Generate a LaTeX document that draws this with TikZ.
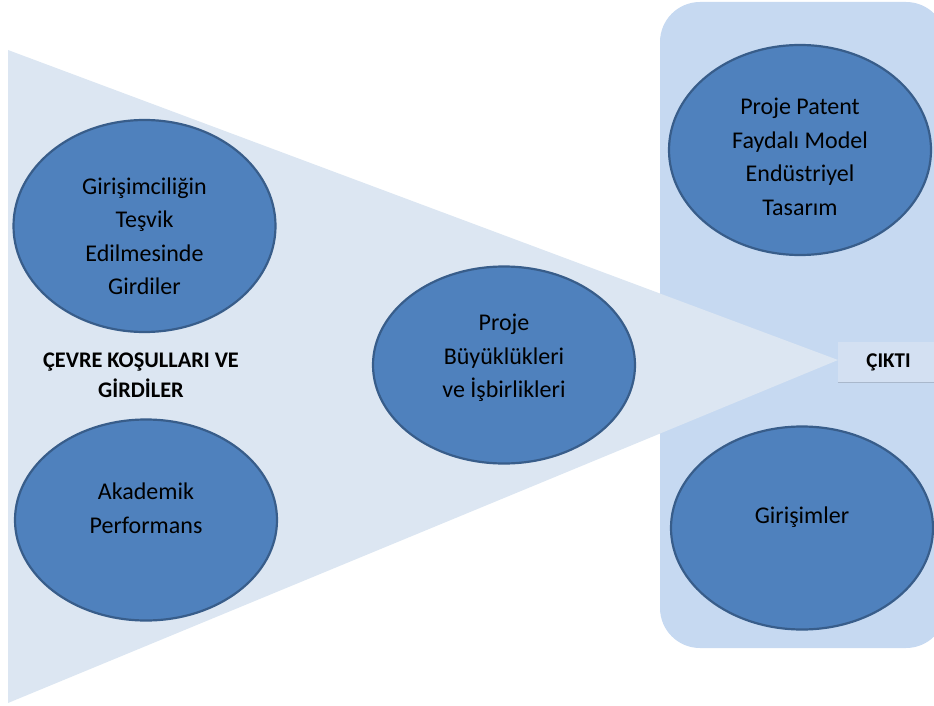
\documentclass[tikz,border=0pt]{standalone}
\usepackage{fontspec}
\setmainfont{Carlito}
\usepackage{tikz}
\usetikzlibrary{shapes.geometric}
\definecolor{ucgen}{HTML}{DCE6F2}
\definecolor{panel}{HTML}{C6D9F1}
\definecolor{kutu}{HTML}{D3E0F2}
\definecolor{cizgi}{HTML}{A9B8CC}
\definecolor{dolgu}{HTML}{4F81BD}
\definecolor{kenar}{HTML}{385D8A}

\begin{document}
\begin{tikzpicture}[x=1pt,y=-1pt]
            % Stiller (DEGISTIRILEBILIR)
            \tikzstyle{bulle}=[ellipse,draw=kenar,line width=2.2pt,fill=dolgu,inner sep=0pt,minimum width=\GenislikBulle pt]
            \tikzstyle{metin}=[align=center,text=black,font=\fontsize{24}{33.5}\selectfont]
            \tikzstyle{baslik}=[align=center,text=black,font=\fontsize{22.3}{30}\selectfont\bfseries]
            % Boyutlar (DEGISTIRILEBILIR)
            \def\GenislikBulle{262}
            \def\UcgenSol{8}
            \def\UcgenUc{838}
            % Cerceve
            \useasboundingbox (0,0) rectangle (934,706);
            \clip (0,0) rectangle (934,706);
            % Arka plan
            \fill[panel,rounded corners=40pt] (660,2) rectangle (946,648);
            \fill[ucgen] (\UcgenSol,50) -- (\UcgenUc,360) -- (\UcgenSol,703) -- cycle;
            % Dugumler (DEGISTIRILEBILIR : Stiller ve Konumlar)
            \node[bulle,minimum height=212pt] (girdi) at (144.5,226) {};
            \node[metin] (girdiT) at (144.5,236) {Girişimciliğin\\Teşvik\\Edilmesinde\\Girdiler};
            \node[baslik] (cevre) at (141,375) {ÇEVRE KOŞULLARI VE\\GİRDİLER};
            \node[bulle,minimum height=201pt] (akademik) at (146,520) {};
            \node[metin] (akademikT) at (146,508.5) {Akademik\\Performans};
            \node[bulle,minimum height=197pt] (proje) at (504,365) {};
            \node[metin] (projeT) at (504,358) {Proje\\Büyüklükleri\\ve İşbirlikleri};
            \node[bulle,minimum height=210pt] (patent) at (800,150) {};
            \node[metin] (patentT) at (800,157) {Proje Patent\\Faydalı Model\\Endüstriyel\\Tasarım};
            \node[bulle,minimum height=203pt] (girisim) at (802,528) {};
            \node[metin] (girisimT) at (802,517) {Girişimler};
            \node[baslik,fill=kutu,minimum width=96pt,minimum height=40pt,inner sep=0pt,font=\fontsize{21}{26}\selectfont\bfseries] (cikti) at (886,362) {\hspace{5pt}ÇIKTI};
            \draw[cizgi,line width=1pt] (cikti.south west) -- (cikti.south east);
        \end{tikzpicture}
\end{document}
